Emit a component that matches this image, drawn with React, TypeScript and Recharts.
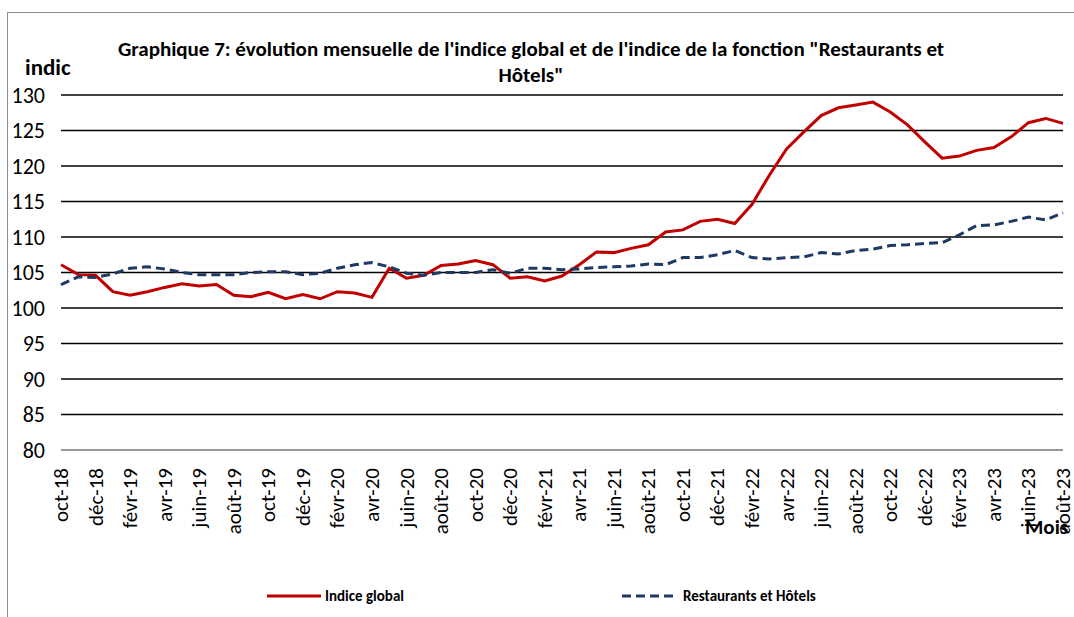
import React from 'react';
import { LineChart, Line, XAxis, YAxis, CartesianGrid, Legend } from 'recharts';

// Monthly labels, oct-18 to août-23
const months = [
  'oct-18', 'nov-18', 'déc-18',
  'janv-19', 'févr-19', 'mars-19', 'avr-19', 'mai-19', 'juin-19', 'juil-19', 'août-19', 'sept-19', 'oct-19', 'nov-19', 'déc-19',
  'janv-20', 'févr-20', 'mars-20', 'avr-20', 'mai-20', 'juin-20', 'juil-20', 'août-20', 'sept-20', 'oct-20', 'nov-20', 'déc-20',
  'janv-21', 'févr-21', 'mars-21', 'avr-21', 'mai-21', 'juin-21', 'juil-21', 'août-21', 'sept-21', 'oct-21', 'nov-21', 'déc-21',
  'janv-22', 'févr-22', 'mars-22', 'avr-22', 'mai-22', 'juin-22', 'juil-22', 'août-22', 'sept-22', 'oct-22', 'nov-22', 'déc-22',
  'janv-23', 'févr-23', 'mars-23', 'avr-23', 'mai-23', 'juin-23', 'juil-23', 'août-23',
];

const indiceGlobal = [
  106.1, 104.7, 104.6, 102.3, 101.8, 102.3, 102.9, 103.4, 103.1, 103.3,
  101.8, 101.6, 102.2, 101.3, 101.9, 101.3, 102.3, 102.1, 101.5, 105.6,
  104.2, 104.6, 106.0, 106.2, 106.7, 106.1, 104.2, 104.4, 103.8, 104.5,
  106.1, 107.9, 107.8, 108.4, 108.9, 110.7, 111.0, 112.2, 112.5, 111.9,
  114.6, 118.7, 122.4, 124.8, 127.1, 128.2, 128.6, 129.0, 127.6, 125.8,
  123.4, 121.1, 121.4, 122.2, 122.6, 124.1, 126.1, 126.7, 126.0,
];

const restaurantsHotels = [
  103.3, 104.4, 104.3, 104.8, 105.6, 105.8, 105.5, 105.0, 104.7, 104.7,
  104.7, 105.0, 105.1, 105.1, 104.7, 104.9, 105.6, 106.1, 106.4, 105.8,
  104.9, 104.6, 105.0, 105.0, 105.0, 105.4, 104.9, 105.6, 105.6, 105.4,
  105.5, 105.7, 105.8, 105.9, 106.2, 106.1, 107.1, 107.1, 107.5, 108.1,
  107.1, 106.9, 107.1, 107.2, 107.8, 107.6, 108.1, 108.3, 108.8, 108.9,
  109.1, 109.2, 110.3, 111.6, 111.7, 112.2, 112.8, 112.4, 113.4,
];

const yTicks = [80, 85, 90, 95, 100, 105, 110, 115, 120, 125, 130];

const RED = '#C00000';
const NAVY = '#1F3864';
const FONT = "Carlito, 'Liberation Sans Narrow', 'Open Sans', sans-serif";

const data = months.map((m, i) => ({
  month: m,
  global: indiceGlobal[i],
  resto: restaurantsHotels[i],
}));

const MonthTick = ({ x, y, payload }: any) => (
  <text
    x={0}
    y={0}
    transform={`translate(${x + 7},${y + 10}) rotate(-90)`}
    textAnchor="end"
    fontSize={21}
    fill="#000"
    fontFamily={FONT}
  >
    {payload.value}
  </text>
);

const LegendContent = () => (
  <div style={{ position: 'relative', height: 30, fontFamily: FONT, fontSize: 15, fontWeight: 'bold' }}>
    <div style={{ position: 'absolute', left: 267, top: 5, display: 'flex', alignItems: 'center' }}>
      <svg width={54} height={6}>
        <line x1={0} y1={3} x2={54} y2={3} stroke={RED} strokeWidth={3} />
      </svg>
      <span style={{ marginLeft: 4 }}>Indice global</span>
    </div>
    <div style={{ position: 'absolute', left: 622, top: 5, display: 'flex', alignItems: 'center' }}>
      <svg width={56} height={6}>
        <line x1={0} y1={3} x2={56} y2={3} stroke={NAVY} strokeWidth={3} strokeDasharray="9 5" />
      </svg>
      <span style={{ marginLeft: 5 }}>Restaurants et Hôtels</span>
    </div>
  </div>
);

export default function App() {
  return (
    <div style={{ position: 'absolute', left: 0, top: 0, width: 1074, height: 617, background: '#fff', fontFamily: FONT, overflow: 'hidden' }}>
      <div
        style={{
          position: 'absolute',
          left: 7,
          top: 12,
          width: 1080,
          height: 620,
          border: '1px solid #8c8c8c',
          boxSizing: 'border-box',
        }}
      />
      <div
        style={{
          position: 'absolute',
          left: 0,
          top: 36,
          width: 1062,
          textAlign: 'center',
          fontWeight: 'bold',
          fontSize: 21,
          lineHeight: '26px',
        }}
      >
        Graphique 7: évolution mensuelle de l'indice global et de l'indice de la fonction "Restaurants et
        <br />
        Hôtels"
      </div>
      <div style={{ position: 'absolute', left: 25, top: 53, fontWeight: 'bold', fontSize: 23 }}>indic</div>
      <div style={{ position: 'absolute', left: 1025, top: 514, fontWeight: 'bold', fontSize: 21 }}>Mois</div>
      <LineChart
        width={1074}
        height={617}
        data={data}
        margin={{ top: 95, right: 11, left: 0, bottom: 5 }}
      >
        <CartesianGrid vertical={false} stroke="#000" strokeWidth={1.3} />
        <XAxis
          dataKey="month"
          interval={1}
          tick={<MonthTick />}
          tickLine={false}
          axisLine={{ stroke: '#999', strokeWidth: 2 }}
          height={132}
        />
        <YAxis
          domain={[80, 130]}
          ticks={yTicks}
          width={61}
          tickLine={false}
          tickSize={0}
          tickMargin={16}
          axisLine={false}
          tick={{ fontSize: 22, fill: '#000', fontFamily: FONT }}
        />
        <Legend verticalAlign="bottom" content={<LegendContent />} />
        <Line
          type="linear"
          dataKey="global"
          stroke={RED}
          strokeWidth={3}
          dot={false}
          isAnimationActive={false}
        />
        <Line
          type="linear"
          dataKey="resto"
          stroke={NAVY}
          strokeWidth={3}
          strokeDasharray="9 5"
          dot={false}
          isAnimationActive={false}
        />
      </LineChart>
    </div>
  );
}
